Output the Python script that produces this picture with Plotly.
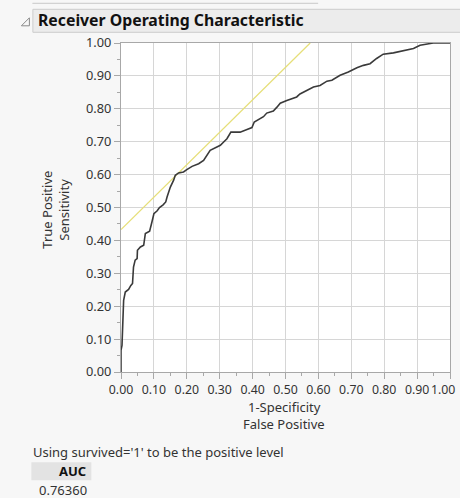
import plotly.graph_objects as go

# ROC curve
fpr = [0.000, 0.000, 0.003, 0.006, 0.008, 0.013, 0.023, 0.030, 0.035, 0.038,
       0.043, 0.049, 0.050, 0.059, 0.069, 0.074, 0.087, 0.094, 0.100, 0.110,
       0.117, 0.128, 0.136, 0.140, 0.150, 0.160, 0.165, 0.175, 0.190, 0.200,
       0.216, 0.236, 0.251, 0.271, 0.292, 0.302, 0.312, 0.322, 0.334, 0.362,
       0.383, 0.398, 0.405, 0.418, 0.433, 0.443, 0.463, 0.474, 0.484, 0.504,
       0.522, 0.534, 0.544, 0.565, 0.585, 0.605, 0.626, 0.641, 0.666, 0.691,
       0.717, 0.737, 0.757, 0.777, 0.797, 0.828, 0.858, 0.889, 0.909, 0.934,
       0.949, 1.000]
tpr = [0.000, 0.066, 0.081, 0.150, 0.218, 0.243, 0.251, 0.263, 0.269, 0.319,
       0.340, 0.345, 0.370, 0.380, 0.385, 0.421, 0.428, 0.456, 0.481, 0.490,
       0.500, 0.508, 0.517, 0.532, 0.562, 0.583, 0.598, 0.605, 0.608, 0.615,
       0.625, 0.633, 0.643, 0.674, 0.684, 0.689, 0.699, 0.709, 0.729, 0.729,
       0.737, 0.743, 0.760, 0.767, 0.776, 0.787, 0.793, 0.805, 0.817, 0.825,
       0.831, 0.836, 0.845, 0.857, 0.866, 0.871, 0.884, 0.887, 0.902, 0.912,
       0.925, 0.932, 0.937, 0.953, 0.966, 0.970, 0.976, 0.983, 0.993, 0.996,
       1.000, 1.000]

# tangent line at the best cut point
tangent_x = [0.0, 0.575]
tangent_y = [0.433, 1.0]

tick_vals = [i / 10 for i in range(11)]
tick_text = [f"{v:.2f}" for v in tick_vals]

auc = "0.76360"

W, H = 460, 498
L, R, T, B = 120.7, 450.0, 42.7, 371.7  # plot box in pixels

def px(x):  # pixel -> paper x
    return (x - L) / (R - L)

def py(y):  # pixel -> paper y
    return (B - y) / (B - T)

FONT = "Noto Sans"
TXT = "#333333"
TICKSIZE = 12.3

fig = go.Figure()
fig.add_trace(go.Scatter(x=tangent_x, y=tangent_y, mode="lines",
                         line=dict(color="#e6df78", width=1.3), hoverinfo="skip"))
fig.add_trace(go.Scatter(x=fpr, y=tpr, mode="lines",
                         line=dict(color="#3a3a3a", width=1.6)))

axis = dict(range=[0, 1], tickvals=tick_vals,
            showgrid=True, gridcolor="#d6d6d6", gridwidth=1,
            showline=True, linecolor="#a8a8a8", linewidth=1, mirror=True,
            ticks="outside", ticklen=6, tickcolor="#a8a8a8",
            minor=dict(dtick=0.05, tick0=0, ticks="outside", ticklen=3,
                       tickcolor="#a8a8a8", showgrid=False),
            zeroline=False, fixedrange=True, automargin=False,
            tickfont=dict(family=FONT, size=TICKSIZE, color=TXT))

# last x label would hang off the right edge, so it is placed separately below
fig.update_layout(
    width=W, height=H, showlegend=False,
    paper_bgcolor="#f7f7f7", plot_bgcolor="white",
    margin=dict(l=L, r=W - R, t=T, b=H - B, pad=0),
    xaxis=dict(axis, ticktext=tick_text[:-1] + [""]),
    yaxis=dict(axis, ticktext=tick_text, tickfont=dict(family=FONT, size=12.8, color=TXT)),
)
fig.add_annotation(text=tick_text[-1], x=tick_vals[-1], xref="x", y=0, yref="paper",
                   xanchor="right", yanchor="middle", xshift=6.5, yshift=-17.5,
                   showarrow=False, font=dict(family=FONT, size=TICKSIZE, color=TXT))

shapes = [
    # divider line at top
    dict(type="line", x0=px(32), x1=px(318), y0=py(3), y1=py(3),
         line=dict(color="#c8c8c8", width=1)),
    # header bar
    dict(type="rect", x0=px(32.5), x1=px(462), y0=py(9), y1=py(32),
         fillcolor="#ececec", line=dict(color="#cccccc", width=1)),
    # disclosure triangle
    dict(type="path", path=f"M {px(21)} {py(25.5)} L {px(29)} {py(25.5)} L {px(29)} {py(17.5)} Z",
         line=dict(color="#8a8a8a", width=1), fillcolor="rgba(0,0,0,0)"),
    # AUC header cell
    dict(type="rect", x0=px(31), x1=px(91), y0=py(462), y1=py(480),
         fillcolor="#e3e3e3", line=dict(width=0)),
]
for s in shapes:
    s.update(xref="paper", yref="paper", layer="above")
fig.update_layout(shapes=shapes)

def note(text, x, y, xa="center", size=13, bold=False, angle=0, color=TXT):
    if bold:
        text = f"<b>{text}</b>"
    fig.add_annotation(text=text, x=px(x), y=py(y), xref="paper", yref="paper",
                       xanchor=xa, yanchor="middle", showarrow=False, textangle=angle,
                       font=dict(family=FONT, size=size, color=color))

note("Receiver Operating Characteristic", 36, 20, xa="left", size=15.8, bold=True, color="#111111")
note("True Positive", 47, 209, angle=-90)
note("Sensitivity", 64, 209, angle=-90)
note("1-Specificity", 284, 407)
note("False Positive", 284, 424)
note("Using survived='1' to be the positive level", 31, 452, xa="left")
note("AUC", 88, 471, xa="right", bold=True, color="#111111")
note(auc, 37, 490, xa="left")

# the page body has an 8px margin by default; drop it so the chart fills the window
fig.write_html("out.html", config={"displayModeBar": False},
               post_script="document.body.style.margin='0';")
